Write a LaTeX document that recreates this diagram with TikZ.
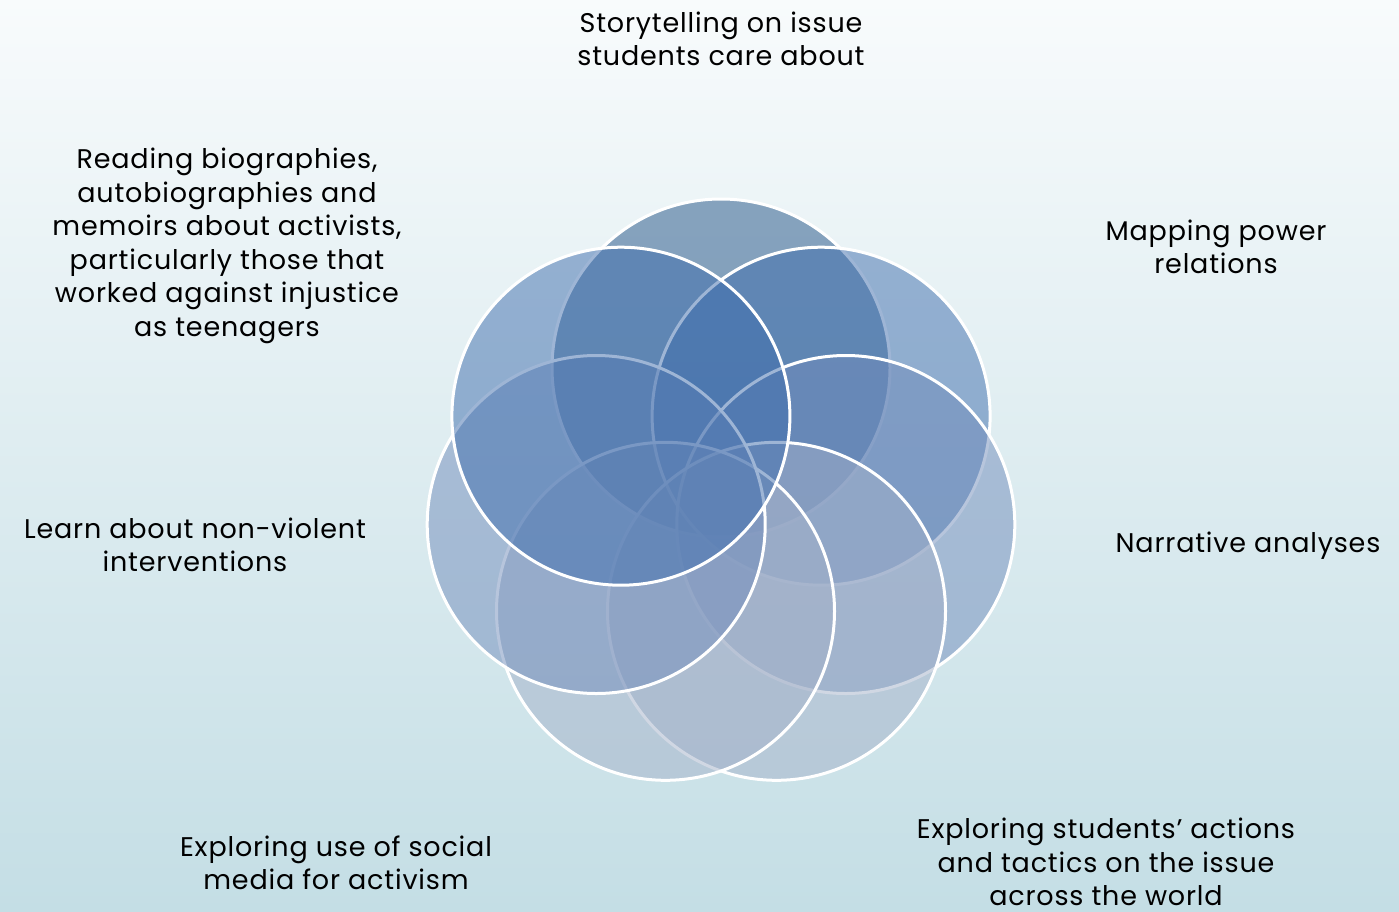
\documentclass[tikz,border=0pt]{standalone}
\usepackage{fontspec}
\setmainfont{Poppins}[LetterSpace=3]
\definecolor{bgtop}{RGB}{248,251,252}
\definecolor{bgbot}{RGB}{196,222,229}
\definecolor{cA}{RGB}{32,81,133}
\definecolor{cB}{RGB}{62,109,173}
\definecolor{cC}{RGB}{113,140,187}
\definecolor{cD}{RGB}{163,177,201}
\tikzset{
  ring/.style={draw=white, line width=3pt, fill opacity=0.5, radius=169},
  lab/.style={align=center, font=\fontsize{27}{33.5}\selectfont, text=black, inner sep=0pt}
}
\begin{document}
\begin{tikzpicture}[x=1pt,y=-1pt]
\shade[top color=bgtop, bottom color=bgbot] (0,0) rectangle (1399,911);
\useasboundingbox (0,0) rectangle (1399,911);
\coordinate (c1) at (721,368);
\coordinate (c2) at (821.1,416.2);
\coordinate (c3) at (845.8,524.5);
\coordinate (c4) at (776.5,611.3);
\coordinate (c5) at (665.5,611.3);
\coordinate (c6) at (596.2,524.5);
\coordinate (c7) at (620.9,416.2);
\path[ring, fill=cA] (c1) circle;
\path[ring, fill=cB] (c2) circle;
\path[ring, fill=cC] (c3) circle;
\path[ring, fill=cD] (c4) circle;
\path[ring, fill=cD] (c5) circle;
\path[ring, fill=cC] (c6) circle;
\path[ring, fill=cB] (c7) circle;
\node[lab] (t1) at (721,39) {Storytelling on issue\\students care about};
\node[lab] (t2) at (1216,247) {Mapping power\\relations};
\node[lab] (t3) at (1248,546) {Narrative analyses};
\node[lab] (t4) at (1106,862) {Exploring students’ actions\\and tactics on the issue\\across the world};
\node[lab] (t5) at (336,863) {Exploring use of social\\media for activism};
\node[lab] (t6) at (195,545) {Learn about non-violent\\interventions};
\node[lab] (t7) at (227,246) {Reading biographies,\\autobiographies and\\memoirs about activists,\\particularly those that\\worked against injustice\\as teenagers};
\end{tikzpicture}
\end{document}
